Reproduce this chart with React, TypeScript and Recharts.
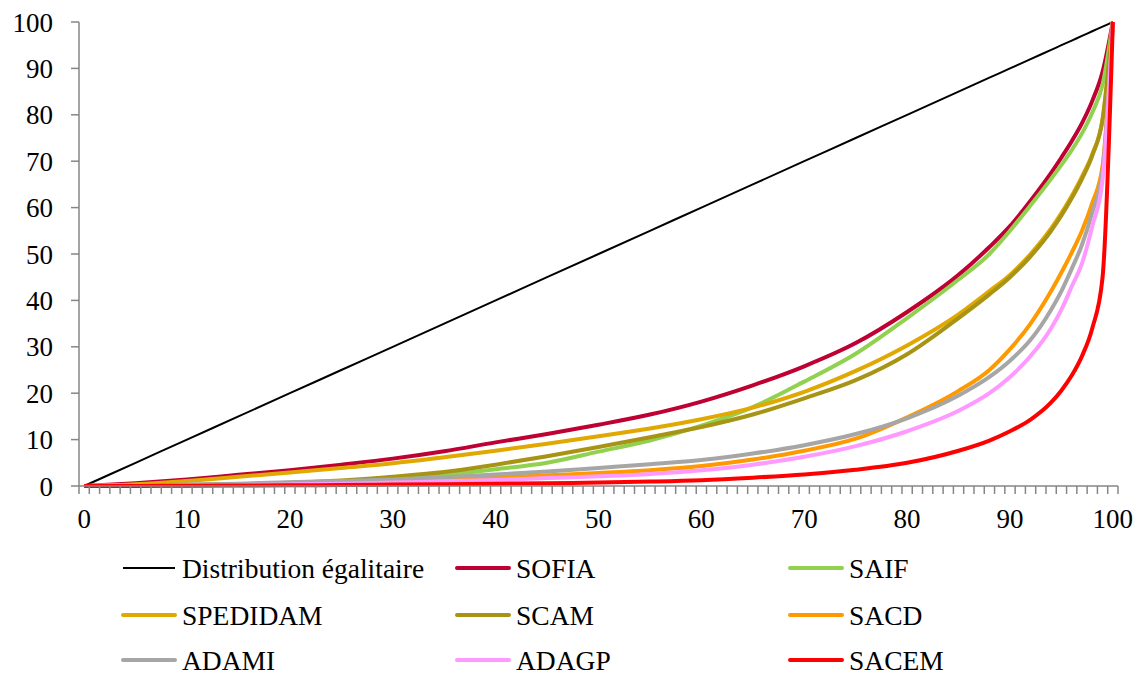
import { LineChart, Line, XAxis, YAxis } from "recharts"

// share of rights-holders (x) vs cumulative share of distributions (y), in %
const xs = [0, 5, 10, 15, 20, 25, 30, 35, 40, 45, 50, 55, 60, 65, 70, 75, 80, 85, 88, 90, 92, 94, 95, 96, 97, 98, 99, 100]

const egalitaire = [0, 5, 10, 15, 20, 25, 30, 35, 40, 45, 50, 55, 60, 65, 70, 75, 80, 85, 88, 90, 92, 94, 95, 96, 97, 98, 99, 100]
const sofia = [0, 0.6, 1.4, 2.4, 3.4, 4.6, 5.9, 7.5, 9.4, 11.2, 13.2, 15.4, 18.2, 21.7, 25.8, 30.8, 37.5, 45.5, 51.5, 56, 61.5, 67.5, 70.8, 74.3, 78.2, 83, 89.3, 100]
const saif = [0, 0.1, 0.2, 0.4, 0.7, 1.0, 1.5, 2.4, 3.6, 5.0, 7.4, 9.8, 13.0, 17.0, 22.5, 28.5, 36.2, 44.5, 50, 55, 60.5, 66.2, 69.2, 72.4, 76, 80.5, 86.5, 100]
const spedidam = [0, 0.4, 1.1, 2.0, 2.9, 3.9, 4.9, 6.2, 7.6, 9.1, 10.7, 12.4, 14.4, 16.9, 20.3, 24.8, 30.3, 37, 42, 45.5, 50, 55.5, 58.8, 62.5, 66.7, 71.5, 79, 100]
const scam = [0, 0.1, 0.2, 0.4, 0.7, 1.2, 2.0, 3.0, 4.6, 6.4, 8.4, 10.5, 12.7, 15.4, 18.9, 22.8, 28.4, 36.2, 41.3, 45, 49.5, 55, 58.3, 62, 66.2, 71.2, 79, 100]
const sacd = [0, 0.05, 0.15, 0.3, 0.5, 0.7, 1.0, 1.4, 1.8, 2.3, 2.8, 3.4, 4.3, 5.7, 7.6, 10.2, 14.8, 20.5, 25, 29.5, 35, 42, 46, 50.3, 55, 61, 69, 100]
const adami = [0, 0.1, 0.3, 0.5, 0.8, 1.1, 1.4, 1.9, 2.5, 3.1, 3.9, 4.7, 5.6, 7.0, 8.8, 11.2, 14.6, 19.5, 23.5, 27, 31.5, 38, 42, 46.8, 52, 59, 68, 100]
const adagp = [0, 0.05, 0.1, 0.2, 0.35, 0.5, 0.75, 1.0, 1.3, 1.7, 2.1, 2.6, 3.4, 4.6, 6.3, 8.6, 11.8, 16.2, 20, 23.5, 28, 34, 38, 43, 48, 56, 66, 100]
const sacem = [0, 0.02, 0.05, 0.1, 0.15, 0.2, 0.3, 0.4, 0.5, 0.6, 0.75, 0.95, 1.25, 1.8, 2.5, 3.5, 5.0, 7.6, 9.8, 11.8, 14.3, 18, 20.6, 23.8, 28, 34, 45, 100]

const yTicks = [0, 10, 20, 30, 40, 50, 60, 70, 80, 90, 100]
const xLabels = [0, 10, 20, 30, 40, 50, 60, 70, 80, 90, 100]
const xCategories = Array.from({ length: 101 }, (_, i) => i)

const series = [
  { key: "egalitaire", name: "Distribution égalitaire", color: "#000000", width: 2, values: egalitaire },
  { key: "sofia", name: "SOFIA", color: "#BE0032", width: 4, values: sofia },
  { key: "saif", name: "SAIF", color: "#92D050", width: 4, values: saif },
  { key: "spedidam", name: "SPEDIDAM", color: "#E0A800", width: 4, values: spedidam },
  { key: "scam", name: "SCAM", color: "#A89414", width: 4, values: scam },
  { key: "sacd", name: "SACD", color: "#FF9900", width: 4, values: sacd },
  { key: "adami", name: "ADAMI", color: "#A6A6A6", width: 4, values: adami },
  { key: "adagp", name: "ADAGP", color: "#FF99FF", width: 4, values: adagp },
  { key: "sacem", name: "SACEM", color: "#FF0000", width: 4, values: sacem },
]

const data = xs.map((x, i) => {
  const row: Record<string, number> = { x }
  series.forEach((s) => (row[s.key] = s.values[i]))
  return row
})

const W = 1142
const H = 675
const MARGIN = { top: 22, right: 24, left: 0, bottom: 139 }
const Y_AXIS_W = 79
const AXIS = "#868686"
const FONT = "'Liberation Serif', 'Times New Roman', serif"
const HALF_STEP = (W - MARGIN.right - Y_AXIS_W) / 101 / 2

function XTick(props: any) {
  const { x, y, payload } = props
  const v = payload.value
  return (
    <g>
      <line x1={x - HALF_STEP} x2={x - HALF_STEP} y1={y} y2={y + 8} stroke={AXIS} strokeWidth={1.5} />
      {v === 100 && <line x1={x + HALF_STEP} x2={x + HALF_STEP} y1={y} y2={y + 8} stroke={AXIS} strokeWidth={1.5} />}
      {xLabels.includes(v) && (
        <text x={x} y={y + 42} textAnchor="middle" fontSize={27} fontFamily={FONT} fill="#000">
          {v}
        </text>
      )}
    </g>
  )
}

// legend: 3 columns x 3 rows
const legendCols = [123, 457, 790]
const legendRows = [568, 615, 660]

export default function App() {
  return (
    <div style={{ position: "absolute", left: 0, top: 0, width: W, height: H, background: "#fff" }}>
      <LineChart width={W} height={H} data={data} margin={MARGIN}>
        <XAxis
          dataKey="x"
          type="number"
          domain={[-0.5, 100.5]}
          ticks={xCategories}
          interval={0}
          tick={<XTick />}
          tickLine={false}
          tickSize={0}
          tickMargin={0}
          height={50}
          axisLine={{ stroke: AXIS, strokeWidth: 1.5 }}
        />
        <YAxis
          type="number"
          domain={[0, 100]}
          ticks={yTicks}
          width={Y_AXIS_W}
          tickSize={8}
          tickMargin={18}
          axisLine={{ stroke: AXIS, strokeWidth: 1.5 }}
          tickLine={{ stroke: AXIS, strokeWidth: 1.5 }}
          tick={{ fontSize: 27, fontFamily: FONT, fill: "#000" }}
        />
        {series.map((s) => (
          <Line
            key={s.key}
            type="monotone"
            dataKey={s.key}
            name={s.name}
            stroke={s.color}
            strokeWidth={s.width}
            dot={false}
            activeDot={false}
            isAnimationActive={false}
          />
        ))}
      </LineChart>
      <svg width={W} height={H} style={{ position: "absolute", left: 0, top: 0, pointerEvents: "none" }}>
        {series.map((s, i) => {
          const cx = legendCols[i % 3]
          const cy = legendRows[Math.floor(i / 3)]
          return (
            <g key={s.key}>
              <line
                x1={cx}
                x2={cx + 52}
                y1={cy}
                y2={cy}
                stroke={s.color}
                strokeWidth={s.width === 2 ? 2 : 4}
                strokeLinecap={s.width === 2 ? "butt" : "round"}
              />
              <text x={cx + 59} y={cy + 9.5} fontSize={27.5} fontFamily={FONT} fill="#000">
                {s.name}
              </text>
            </g>
          )
        })}
      </svg>
    </div>
  )
}
